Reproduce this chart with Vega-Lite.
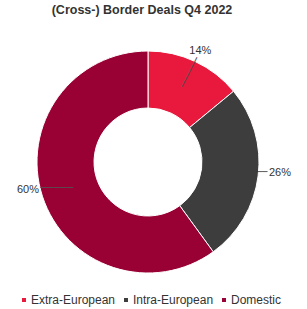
{
  "$schema": "https://vega.github.io/schema/vega-lite/v6.json",
  "width": 296,
  "height": 222,
  "autosize": "none",
  "padding": {"left": 0, "top": 51, "right": 11, "bottom": 36},
  "background": "white",
  "title": {"text": "(Cross-) Border Deals Q4 2022", "font": "Liberation Sans", "fontSize": 12.5, "fontWeight": "bold", "color": "#333333", "anchor": "middle", "frame": "group", "dx": -6, "offset": 13},
  "data": {"values": [
    {"category": "Extra-European", "value": 14, "label": "14%", "ord": 1},
    {"category": "Intra-European", "value": 26, "label": "26%", "ord": 2},
    {"category": "Domestic", "value": 60, "label": "60%", "ord": 3}
  ]},
  "encoding": {
    "theta": {"field": "value", "type": "quantitative", "stack": true},
    "order": {"field": "ord", "type": "quantitative"}
  },
  "layer": [
    {
      "mark": {"type": "arc", "outerRadius": 111, "innerRadius": 54, "stroke": "white", "strokeWidth": 1},
      "encoding": {
        "color": {"field": "category", "type": "nominal",
          "scale": {"domain": ["Extra-European", "Intra-European", "Domestic"], "range": ["#E8193C", "#3D3D3D", "#990033"]},
          "legend": {"title": null, "orient": "none", "legendX": 18, "legendY": 243, "direction": "horizontal", "symbolType": "square", "symbolSize": 30, "labelFont": "Liberation Sans", "labelFontSize": 12, "labelColor": "#333333", "columnPadding": 4, "labelOffset": 1}
        }
      }
    },
    {
      "mark": {"type": "text", "radius": 99, "angle": 297, "font": "DejaVu Sans", "fontSize": 11, "color": "#5A4A4E"},
      "encoding": {"text": {"condition": {"test": "datum.category === 'Extra-European'", "value": "─────"}, "value": ""}}
    },
    {
      "mark": {"type": "text", "radius": 115, "angle": 0, "font": "DejaVu Sans", "fontSize": 9, "color": "#333333", "dy": -4},
      "encoding": {"text": {"condition": {"test": "datum.category === 'Intra-European'", "value": "──"}, "value": ""}}
    },
    {
      "mark": {"type": "text", "radius": 96, "angle": 0, "font": "DejaVu Sans", "fontSize": 11, "color": "#5A4A4E", "dy": -4},
      "encoding": {"text": {"condition": {"test": "datum.category === 'Domestic'", "value": "─────"}, "value": ""}}
    },
    {
      "mark": {"type": "text", "radius": 123, "font": "Liberation Sans", "fontSize": 11, "color": "#333333"},
      "encoding": {"text": {"condition": {"test": "datum.category === 'Extra-European'", "field": "label"}, "value": ""}}
    },
    {
      "mark": {"type": "text", "radius": 133, "dy": -6, "font": "Liberation Sans", "fontSize": 11, "color": "#333333"},
      "encoding": {"text": {"condition": {"test": "datum.category === 'Intra-European'", "field": "label"}, "value": ""}}
    },
    {
      "mark": {"type": "text", "radius": 123, "dx": -3, "dy": -10, "font": "Liberation Sans", "fontSize": 11, "color": "#333333"},
      "encoding": {"text": {"condition": {"test": "datum.category === 'Domestic'", "field": "label"}, "value": ""}}
    }
  ]
}
